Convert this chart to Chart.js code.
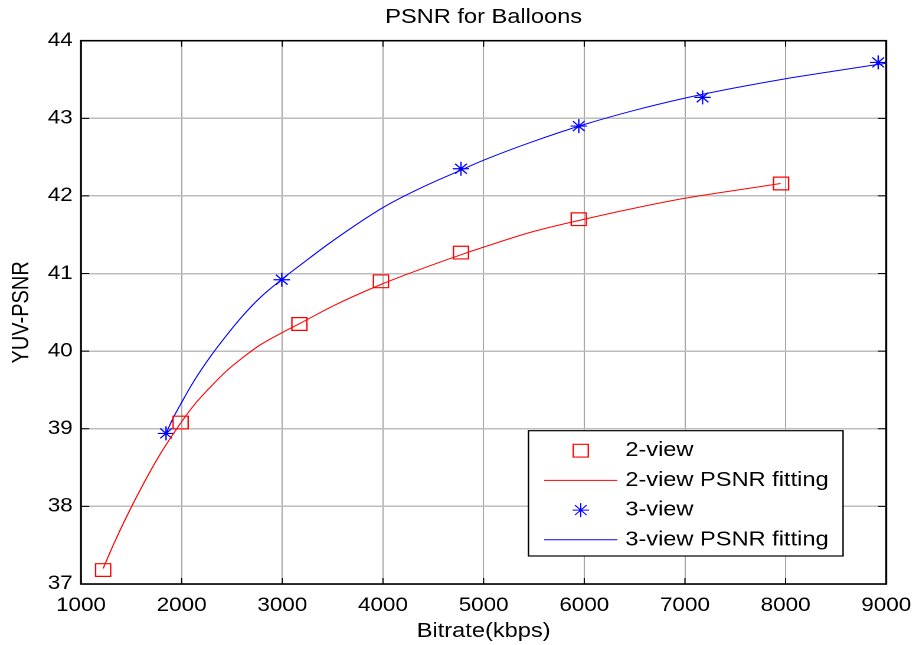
<!DOCTYPE html>
<html>
<head>
<meta charset="utf-8">
<script src="https://cdn.jsdelivr.net/npm/chart.js@4/dist/chart.umd.min.js"></script>
<style>
  html, body { margin: 0; padding: 0; background: #fff; overflow: hidden; }
  /* the reference is horizontally stretched, so draw narrow and stretch it */
  #wrap { width: 776px; height: 645px; transform: scaleX(1.1804); transform-origin: 0 0; }
</style>
</head>
<body>
<div id="wrap"><canvas id="psnrChart" width="776" height="645"></canvas></div>
<script>
// measured points
const twoViewRate = [1220, 1990, 3170, 3980, 4775, 5945, 7955];
const twoViewPsnr = [37.18, 39.08, 40.35, 40.90, 41.27, 41.70, 42.16];
const threeViewRate = [1845, 2995, 4775, 5945, 7175, 8920];
const threeViewPsnr = [38.94, 40.92, 42.35, 42.90, 43.27, 43.72];

// fitted curves
const twoFitRate = [1220, 1320, 1450, 1620, 1790, 2000, 2120, 2280, 2450, 2610, 2780, 3000, 3180, 3500, 4000, 4340, 4770, 5000, 5490, 6000, 6490, 7000, 7490, 7950];
const twoFitPsnr = [37.20, 37.50, 37.86, 38.29, 38.68, 39.09, 39.30, 39.53, 39.75, 39.92, 40.08, 40.24, 40.36, 40.58, 40.87, 41.04, 41.24, 41.34, 41.54, 41.70, 41.84, 41.97, 42.07, 42.16];
const threeFitRate = [1845, 1920, 2000, 2120, 2280, 2450, 2610, 2780, 3000, 3180, 3500, 4000, 4340, 4770, 5000, 5490, 6000, 6490, 7000, 7490, 8000, 8490, 9000];
const threeFitPsnr = [38.94, 39.15, 39.34, 39.61, 39.92, 40.21, 40.46, 40.69, 40.93, 41.11, 41.42, 41.85, 42.08, 42.33, 42.46, 42.70, 42.92, 43.10, 43.26, 43.39, 43.51, 43.61, 43.71];

const xTicks = [1000, 2000, 3000, 4000, 5000, 6000, 7000, 8000, 9000];
const yTicks = [37, 38, 39, 40, 41, 42, 43, 44];
const chartTitle = "PSNR for Balloons";

const FONT = "'Liberation Sans', Arial, sans-serif";

function pts(xs, ys) {
  return xs.map((x, i) => ({ x: x, y: ys[i] }));
}

// black box with inward ticks + title centred over the axes, like matlab
const boxPlugin = {
  id: "matlabBox",
  afterDatasetsDraw(chart) {
    const { ctx, chartArea: a, scales } = chart;
    ctx.save();
    ctx.strokeStyle = "#000";
    ctx.lineWidth = 1;
    ctx.beginPath();
    xTicks.forEach(v => {
      const px = scales.x.getPixelForValue(v);
      ctx.moveTo(px, a.bottom); ctx.lineTo(px, a.bottom - 6);
      ctx.moveTo(px, a.top); ctx.lineTo(px, a.top + 6);
    });
    yTicks.forEach(v => {
      const py = scales.y.getPixelForValue(v);
      ctx.moveTo(a.left, py); ctx.lineTo(a.left + 7, py);
      ctx.moveTo(a.right, py); ctx.lineTo(a.right - 7, py);
    });
    ctx.stroke();
    ctx.lineWidth = 1.6;
    ctx.strokeRect(a.left, a.top, a.right - a.left, a.bottom - a.top);

    ctx.fillStyle = "#000";
    ctx.font = "20px " + FONT;
    ctx.textAlign = "center";
    ctx.textBaseline = "middle";
    ctx.fillText(chartTitle, (a.left + a.right) / 2, 17.5);
    ctx.restore();
  }
};

// legend box inside the plot, bottom right
const legendPlugin = {
  id: "matlabLegend",
  afterDraw(chart) {
    const { ctx, chartArea: a } = chart;
    const w = 266.5, h = 125.3;
    const left = a.right - 36.6 - w;
    const top = a.bottom - 28 - h;
    ctx.save();
    ctx.fillStyle = "#fff";
    ctx.fillRect(left, top, w, h);
    ctx.strokeStyle = "#000";
    ctx.lineWidth = 1.2;
    ctx.strokeRect(left, top, w, h);
    ctx.font = "20px " + FONT;
    ctx.textBaseline = "middle";
    ctx.textAlign = "left";
    chart.data.datasets.forEach((ds, i) => {
      const y = top + 20 + i * 29.7;
      const cx = left + 44.3;
      if (ds.showLine) {
        ctx.strokeStyle = ds.borderColor;
        ctx.lineWidth = ds.borderWidth;
        ctx.beginPath();
        ctx.moveTo(cx - 31, y); ctx.lineTo(cx + 31, y);
        ctx.stroke();
      } else {
        ctx.strokeStyle = ds.borderColor;
        ctx.fillStyle = "rgba(0,0,0,0)";
        Chart.helpers.drawPoint(ctx, {
          pointStyle: ds.pointStyle,
          radius: ds.pointRadius,
          rotation: 0,
          borderWidth: ds.borderWidth
        }, cx, y);
      }
      ctx.fillStyle = "#000";
      ctx.fillText(ds.label, left + 82, y);
    });
    ctx.restore();
  }
};

const config = {
  type: "scatter",
  data: {
    datasets: [
      {
        label: "2-view",
        data: pts(twoViewRate, twoViewPsnr),
        pointStyle: "rect",
        pointRadius: 9,
        borderColor: "#ff0000",
        backgroundColor: "rgba(0,0,0,0)",
        borderWidth: 1.2,
        showLine: false
      },
      {
        label: "2-view PSNR fitting",
        data: pts(twoFitRate, twoFitPsnr),
        showLine: true,
        pointRadius: 0,
        borderColor: "#ff0000",
        borderWidth: 1,
        cubicInterpolationMode: "monotone"
      },
      {
        label: "3-view",
        data: pts(threeViewRate, threeViewPsnr),
        pointStyle: "star",
        pointRadius: 7,
        borderColor: "#0000ff",
        backgroundColor: "#0000ff",
        borderWidth: 1.2,
        showLine: false
      },
      {
        label: "3-view PSNR fitting",
        data: pts(threeFitRate, threeFitPsnr),
        showLine: true,
        pointRadius: 0,
        borderColor: "#0000ff",
        borderWidth: 1,
        cubicInterpolationMode: "monotone"
      }
    ]
  },
  options: {
    responsive: false,
    animation: false,
    devicePixelRatio: 2,
    layout: { padding: { left: 0, right: 25.2, top: 40.7, bottom: 0 } },
    plugins: {
      legend: { display: false },
      tooltip: { enabled: false },
      title: { display: false }
    },
    scales: {
      x: {
        type: "linear",
        min: 1000,
        max: 9000,
        afterBuildTicks: s => { s.ticks = xTicks.map(v => ({ value: v })); },
        afterFit: s => { s.height = 61; },
        ticks: {
          color: "#000",
          padding: 3,
          maxRotation: 0,
          font: { family: FONT, size: 19, lineHeight: 1.97 },
          callback: v => String(v)
        },
        grid: { color: "#a6a6a6", lineWidth: 1, drawTicks: false },
        border: { display: false },
        title: {
          display: true,
          text: "Bitrate(kbps)",
          color: "#000",
          font: { family: FONT, size: 20 },
          padding: { top: 0, bottom: 1.3 }
        }
      },
      y: {
        type: "linear",
        min: 37,
        max: 44,
        afterBuildTicks: s => { s.ticks = yTicks.map(v => ({ value: v })); },
        afterFit: s => { s.width = 68.6; },
        ticks: {
          color: "#000",
          padding: 7,
          font: { family: FONT, size: 19 },
          callback: v => String(v)
        },
        grid: { color: "#bdbdbd", lineWidth: 1.5, drawTicks: false },
        border: { display: false },
        title: {
          display: true,
          text: "YUV-PSNR",
          color: "#000",
          font: { family: FONT, size: 20 },
          padding: { top: 6.6, bottom: 0 }
        }
      }
    }
  },
  plugins: [boxPlugin, legendPlugin]
};

let psnrChart = new Chart(document.getElementById("psnrChart"), config);
</script>
</body>
</html>
